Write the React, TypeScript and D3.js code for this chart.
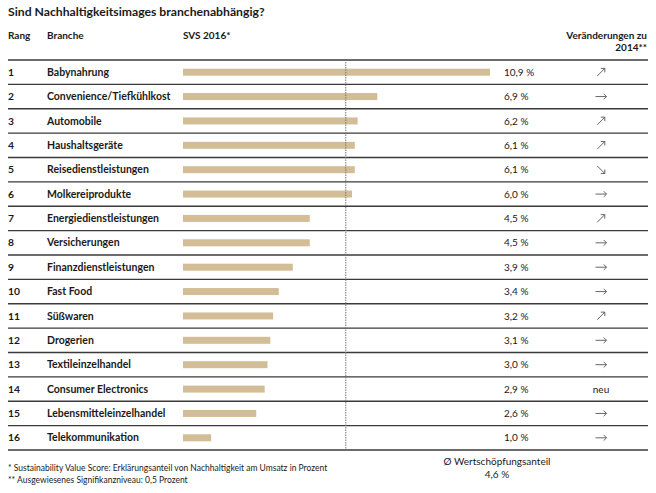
import { useEffect, useRef } from 'react';
import * as d3 from 'd3';

const ranks = [1, 2, 3, 4, 5, 6, 7, 8, 9, 10, 11, 12, 13, 14, 15, 16];
const branches = [
  'Babynahrung', 'Convenience/Tiefkühlkost', 'Automobile', 'Haushaltsgeräte',
  'Reisedienstleistungen', 'Molkereiprodukte', 'Energiedienstleistungen', 'Versicherungen',
  'Finanzdienstleistungen', 'Fast Food', 'Süßwaren', 'Drogerien',
  'Textileinzelhandel', 'Consumer Electronics', 'Lebensmitteleinzelhandel', 'Telekommunikation'
];
const svsValues = [10.9, 6.9, 6.2, 6.1, 6.1, 6.0, 4.5, 4.5, 3.9, 3.4, 3.2, 3.1, 3.0, 2.9, 2.6, 1.0];
// up / flat / down / new
const changes = ['up', 'flat', 'up', 'up', 'down', 'flat', 'up', 'flat', 'flat', 'flat', 'up', 'flat', 'flat', 'neu', 'flat', 'flat'];
const averageLabel = '4,6 %';
// the dotted average marker sits here in the original graphic
const averageLinePos = 5.78;

const W = 656;
const H = 493;
const FONT = 'Lato, "Open Sans", sans-serif';
const BAR_COLOR = '#d3bd96';
const LINE_COLOR = '#3a3a3a';

const fmt = (v: number) => v.toFixed(1).replace('.', ',') + ' %';

export default function App() {
  const svgRef = useRef<SVGSVGElement>(null);

  useEffect(() => {
    if (!svgRef.current) return;
    const svg = d3.select(svgRef.current);
    svg.selectAll('*').remove();

    const x = d3.scaleLinear().domain([0, 10.9]).range([183, 490]);
    const y = d3.scaleBand<number>().domain(ranks).range([60, 450]).padding(0);

    svg.append('rect').attr('width', W).attr('height', H).attr('fill', '#fff');

    // title
    svg.append('text')
      .attr('x', 8).attr('y', 16)
      .attr('font-family', FONT).attr('font-size', 12.2).attr('font-weight', 'bold')
      .attr('fill', '#1a1a1a')
      .text('Sind Nachhaltigkeitsimages branchenabhängig?');

    // headers
    const header = svg.append('g')
      .attr('font-family', FONT).attr('font-size', 10).attr('font-weight', 'bold').attr('fill', '#1a1a1a');
    header.append('text').attr('x', 8).attr('y', 39).text('Rang');
    header.append('text').attr('x', 47).attr('y', 39).text('Branche');
    header.append('text').attr('x', 183).attr('y', 39).text('SVS 2016*');
    header.append('text').attr('x', 647).attr('y', 39).attr('text-anchor', 'end').text('Veränderungen zu');
    header.append('text').attr('x', 647).attr('y', 51).attr('text-anchor', 'end').text('2014**');

    // row separators
    const seps = [ranks[0], ...ranks].map((r, i) => (i === 0 ? y(r)! : y(r)! + y.bandwidth()));
    svg.append('g').selectAll('line').data(seps).join('line')
      .attr('x1', 8).attr('x2', 648)
      .attr('y1', d => d).attr('y2', d => d)
      .attr('stroke', LINE_COLOR).attr('stroke-width', 1.4);

    // bars
    svg.append('g').selectAll('rect').data(svsValues).join('rect')
      .attr('x', x(0))
      .attr('y', (_, i) => y(ranks[i])! + y.bandwidth() / 2 - 3.5)
      .attr('width', d => x(d) - x(0))
      .attr('height', 7)
      .attr('fill', BAR_COLOR);

    // average dotted line
    svg.append('line')
      .attr('x1', x(averageLinePos)).attr('x2', x(averageLinePos))
      .attr('y1', 62).attr('y2', 450)
      .attr('stroke', '#777').attr('stroke-width', 1)
      .attr('stroke-dasharray', '1.5,1');

    const rows = svg.append('g').attr('font-family', FONT).attr('fill', '#1a1a1a');
    ranks.forEach((r, i) => {
      const cy = y(r)! + y.bandwidth() / 2 + 3.6;
      rows.append('text').attr('x', 8).attr('y', cy).attr('font-size', 10.3).attr('font-weight', 'bold').text(String(r));
      rows.append('text').attr('x', 47).attr('y', cy).attr('font-size', 10.5).attr('font-weight', 'bold').text(branches[i]);
      rows.append('text').attr('x', 504).attr('y', cy).attr('font-size', 10).text(fmt(svsValues[i]));

      const ch = changes[i];
      if (ch === 'neu') {
        rows.append('text').attr('x', 601).attr('y', cy).attr('font-size', 10).attr('text-anchor', 'middle').text('neu');
      } else {
        const cx = 601;
        const my = y(r)! + y.bandwidth() / 2;
        const g = rows.append('g').attr('stroke', '#555').attr('stroke-width', 0.9).attr('fill', 'none');
        let x1: number, y1: number, x2: number, y2: number;
        if (ch === 'flat') { x1 = cx - 5.5; y1 = my; x2 = cx + 5.5; y2 = my; }
        else if (ch === 'up') { x1 = cx - 3.8; y1 = my + 3.8; x2 = cx + 3.8; y2 = my - 3.8; }
        else { x1 = cx - 3.8; y1 = my - 3.8; x2 = cx + 3.8; y2 = my + 3.8; }
        g.append('line').attr('x1', x1).attr('y1', y1).attr('x2', x2).attr('y2', y2);
        const ang = Math.atan2(y2 - y1, x2 - x1);
        const head = 4;
        [ang + Math.PI * 0.75, ang - Math.PI * 0.75].forEach(a => {
          g.append('line')
            .attr('x1', x2).attr('y1', y2)
            .attr('x2', x2 + Math.cos(a) * head).attr('y2', y2 + Math.sin(a) * head);
        });
      }
    });

    // footnotes
    const foot = svg.append('g').attr('font-family', FONT).attr('font-size', 8.5).attr('fill', '#1a1a1a');
    foot.append('text').attr('x', 8).attr('y', 471)
      .text('* Sustainability  Value Score: Erklärungsanteil von Nachhaltigkeit am Umsatz in Prozent');
    foot.append('text').attr('x', 8).attr('y', 483)
      .text('** Ausgewiesenes Signifikanzniveau: 0,5 Prozent');

    const avg = svg.append('g').attr('font-family', FONT).attr('font-size', 10).attr('fill', '#1a1a1a')
      .attr('text-anchor', 'middle');
    avg.append('text').attr('x', 497).attr('y', 465).text('Ø Wertschöpfungsanteil');
    avg.append('text').attr('x', 497).attr('y', 478).text(averageLabel);
  }, []);

  return (
    <svg
      ref={svgRef}
      width={W}
      height={H}
      style={{ position: 'absolute', left: 0, top: 0, display: 'block' }}
    />
  );
}
